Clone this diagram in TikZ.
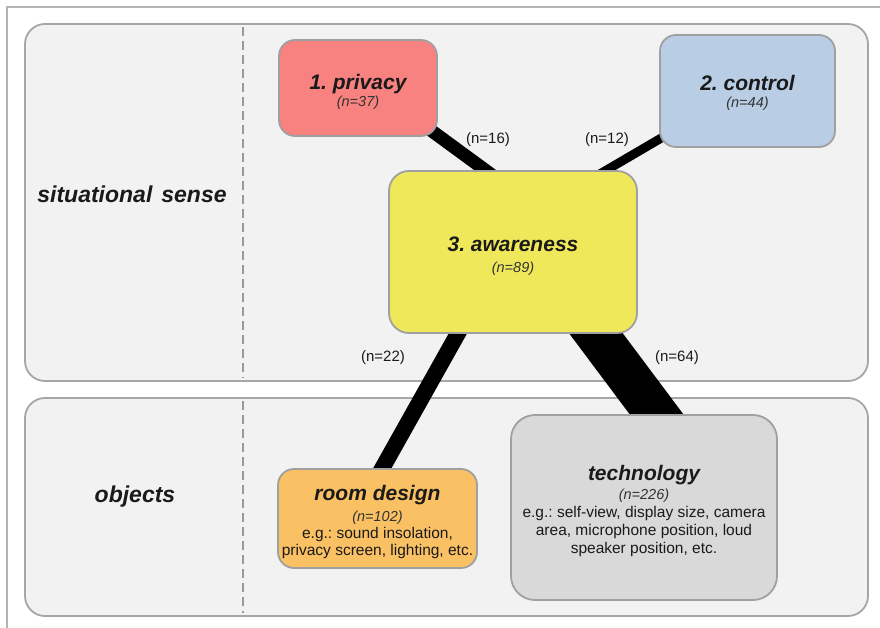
\documentclass[tikz,border=0pt]{standalone}
\usepackage{fontspec}
\setmainfont{Liberation Sans}
\usetikzlibrary{calc}
\pgfdeclarelayer{bg}
\pgfdeclarelayer{mid}
\pgfsetlayers{bg,mid,main}
\definecolor{privfill}{HTML}{F88280}
\definecolor{ctrlfill}{HTML}{B9CDE5}
\definecolor{awfill}{HTML}{EEE85A}
\definecolor{roomfill}{HTML}{F9C064}
\definecolor{techfill}{HTML}{D9D9D9}
\definecolor{panelfill}{HTML}{F2F2F2}
\definecolor{panelborder}{HTML}{A6A6A6}
\definecolor{boxborder}{HTML}{A0A0A0}
\definecolor{framecol}{HTML}{B4B4B4}
\definecolor{dashcol}{HTML}{999999}
\definecolor{txt}{HTML}{1A1A1A}
\definecolor{subtxt}{HTML}{333333}
\newcommand{\mytitle}[1]{{\fontsize{21}{21}\selectfont\bfseries\itshape #1}}
\newcommand{\mycount}[1]{{\color{subtxt}\fontsize{14.5}{17}\selectfont\itshape #1}}
\frenchspacing
\begin{document}
\frenchspacing
\begin{tikzpicture}[x=1pt,y=-1pt,
  panel/.style={draw=panelborder, fill=panelfill, line width=1.8pt, rounded corners=20pt, inner sep=0pt, outer sep=0pt},
  sidelabel/.style={font=\fontsize{23}{23}\selectfont\bfseries\itshape, text=txt, inner sep=0pt},
  catbox/.style={draw=boxborder, line width=1.8pt, rounded corners=16pt, inner sep=0pt, outer sep=0pt},
  cattext/.style={inner sep=0pt, align=center, text=txt, font=\fontsize{15.5}{18}\selectfont},
  conn/.style={line width=#1, draw=black},
  nlabel/.style={font=\fontsize{15}{15}\selectfont, text=txt, inner sep=0pt},
  sepline/.style={draw=dashcol, line width=2.5pt, dash pattern=on 9pt off 5pt}]
\useasboundingbox (0,0) rectangle (880,628);
\begin{pgfonlayer}{bg}
  \fill[white] (0,0) rectangle (880,628);
  \draw[framecol, line width=1.5pt] (7,628) -- (7,7) -- (880,7);
  \node[panel, minimum width=843, minimum height=357] (top) at (446.5,202.5) {};
  \node[panel, minimum width=843, minimum height=218] (bot) at (446.5,507) {};
  \coordinate (sepx) at (243,0);
  \draw[sepline] ($(top.north -| sepx)+(0,3)$) -- ($(top.south -| sepx)+(0,-3)$);
  \draw[sepline] ($(bot.north -| sepx)+(0,3)$) -- ($(bot.south -| sepx)+(0,-3)$);
\end{pgfonlayer}

\node[sidelabel] (ss) at (132,194) {situational\hspace{9pt}sense};
\node[sidelabel] (obj) at (135,497) {objects};

\node[catbox, fill=privfill, minimum width=158, minimum height=96] (priv) at (358,88) {};
\node[cattext] (privt) at ($(priv.center)+(0,4)$) {\mytitle{1. privacy}\\[-1pt]\mycount{(n=37)}};
\node[catbox, fill=ctrlfill, minimum width=175, minimum height=112] (ctrl) at (747.5,91) {};
\node[cattext] (ctrlt) at ($(ctrl.center)+(0,2)$) {\mytitle{2. control}\\[-1pt]\mycount{(n=44)}};
\node[catbox, fill=awfill, minimum width=248, minimum height=162, rounded corners=20pt] (aw) at (513,252) {};
\node[cattext] (awt) at ($(aw.center)+(0,4)$) {\mytitle{3. awareness}\\[3pt]\mycount{(n=89)}};
\node[catbox, fill=roomfill, minimum width=199, minimum height=99] (room) at (377.5,518.5) {};
\node[cattext] (roomt) at ($(room.center)+(0,3)$)
  {\mytitle{room design}\\[3pt]\mycount{(n=102)}\\[-1pt]e.g.: sound insolation,\\[-1pt]privacy screen, lighting, etc.};
\node[catbox, fill=techfill, minimum width=266, minimum height=185, rounded corners=24pt] (tech) at (644,507.5) {};
\node[cattext] (techt) at ($(tech.center)+(0,3)$)
  {\mytitle{technology}\\[1pt]\mycount{(n=226)}\\e.g.: self-view, display size, camera\\area, microphone position, loud\\speaker position, etc.};

\begin{pgfonlayer}{mid}
  \draw[conn=13pt] ($(priv.south east)+(-27,-21)$) -- ($(aw.north west)+(107,7)$);
  \draw[conn=9pt] ($(ctrl.south west)+(15,-17)$) -- ($(aw.north west)+(204,7)$);
  \draw[conn=16pt] ($(aw.south west)+(77,-14)$) -- ($(room.north east)+(-103,14)$);
  \draw[conn=43pt] ($(aw.south west)+(191,-21)$) -- ($(tech.north west)+(161,20)$);
\end{pgfonlayer}

\node[nlabel] (l16) at (488,140) {(n=16)};
\node[nlabel] (l12) at (607,140) {(n=12)};
\node[nlabel] (l22) at (383,358) {(n=22)};
\node[nlabel] (l64) at (677,358) {(n=64)};
\end{tikzpicture}
\end{document}
